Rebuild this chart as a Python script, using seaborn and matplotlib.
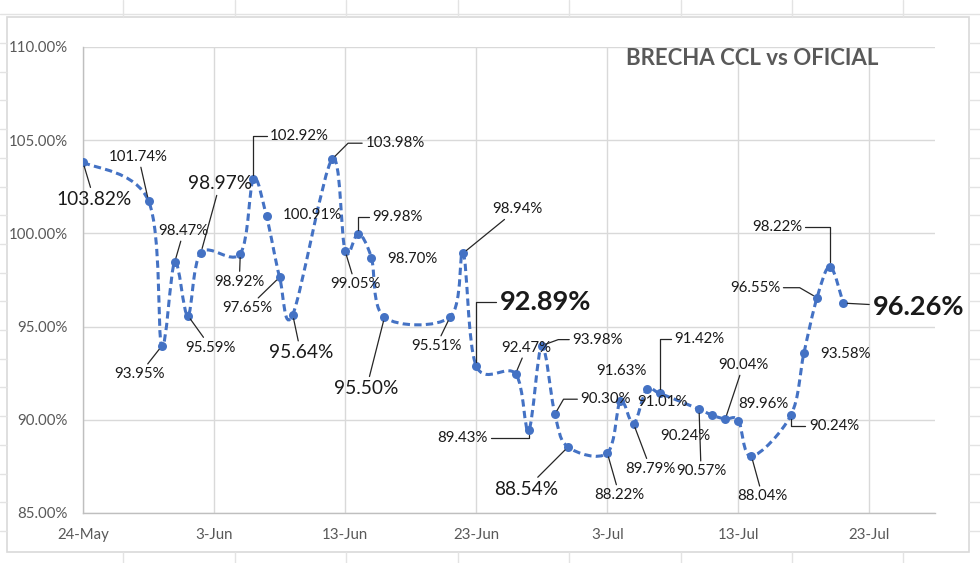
import numpy as np
import pandas as pd
import seaborn as sns
import matplotlib.pyplot as plt
import matplotlib.dates as mdates
from matplotlib.path import Path
from matplotlib.patches import PathPatch, Rectangle
from matplotlib.lines import Line2D
from matplotlib.ticker import FuncFormatter

# --- data ---
dates = ["2020-05-24", "2020-05-29", "2020-05-30", "2020-05-31", "2020-06-01",
         "2020-06-02", "2020-06-05", "2020-06-06", "2020-06-07", "2020-06-08",
         "2020-06-09", "2020-06-12", "2020-06-13", "2020-06-14", "2020-06-15",
         "2020-06-16", "2020-06-21", "2020-06-22", "2020-06-23", "2020-06-26",
         "2020-06-27", "2020-06-28", "2020-06-29", "2020-06-30", "2020-07-03",
         "2020-07-04", "2020-07-05", "2020-07-06", "2020-07-07", "2020-07-10",
         "2020-07-11", "2020-07-12", "2020-07-13", "2020-07-14", "2020-07-17",
         "2020-07-18", "2020-07-19", "2020-07-20", "2020-07-21"]
brecha = [103.82, 101.74, 93.95, 98.47, 95.59, 98.97, 98.92, 102.92, 100.91, 97.65,
          95.64, 103.98, 99.05, 99.98, 98.70, 95.50, 95.51, 98.94, 92.89, 92.47,
          89.43, 93.98, 90.30, 88.54, 88.22, 91.01, 89.79, 91.63, 91.42, 90.57,
          90.24, 90.04, 89.96, 88.04, 90.24, 93.58, 96.55, 98.22, 96.26]
x_ticks = ["2020-05-24", "2020-06-03", "2020-06-13", "2020-06-23",
           "2020-07-03", "2020-07-13", "2020-07-23"]
title = "BRECHA CCL vs OFICIAL"

# label placement: offset in pixels (dx, dy up), size class, leader kind
# kind: n = normal, b = big, B = big bold ; leader: None, "line", or angle (elbow)
label_style = [
    ((11, -37), "b", "line"), ((-10, 44), "n", "line"), ((-22, -28), "n", "line"),
    ((9, 31), "n", "line"), ((23, -32), "n", "line"), ((19, 69), "b", "line"),
    ((-1, -28), "n", "line"), ((46, 43), "n", 90), ((46, 1), "n", None),
    ((-32, -31), "n", "line"), ((8, -38), "b", "line"), ((63, 16), "n", 45),
    ((10, -33), "n", "line"), ((39, 17), "n", 90), ((41, -1), "n", None),
    ((-18, -71), "b", "line"), ((-14, -29), "n", "line"), ((54, 44), "n", "line"),
    ((69, 64), "B", 90), ((11, 26), "n", "line"), ((-66, -8), "n", 90),
    ((56, 6), "n", 20), ((51, 15), "n", 60), ((-42, -42), "b", "line"),
    ((12, -42), "n", "line"), ((42, -1), "n", None), ((17, -45), "n", "line"),
    ((-25, 18), "n", None), ((40, 54), "n", 90), ((2, -62), "n", "line"),
    ((-27, -21), "n", None), ((18, 54), "n", "line"), ((25, 17), "n", None),
    ((11, -40), "n", "line"), ((43, -11), "n", 90), ((42, -1), "n", None),
    ((-62, 10), "n", 150), ((-53, 40), "n", 90), ((75, -4), "B", "line"),
]

blue = "#4472C4"
grid_c = "#d9d9d9"
text_c = "#595959"

sns.set_theme(style="whitegrid")
plt.rcParams['font.family'] = ['Lato', 'DejaVu Sans']

fig = plt.figure(figsize=(9.8, 5.63), dpi=100)
fig.patch.set_facecolor("white")
W, H = 980, 563
ax = fig.add_axes([83 / W, 1 - 513 / H, (935 - 83) / W, (513 - 47) / H])

df = pd.DataFrame({"fecha": pd.to_datetime(dates), "brecha": brecha})

sns.scatterplot(data=df, x="fecha", y="brecha", ax=ax, color=blue, s=42,
                edgecolor=blue, linewidth=0, zorder=4, legend=False)

# smoothed dashed line (Catmull-Rom -> cubic Bezier, like Excel's smoothing)
xs = mdates.date2num(df["fecha"])
ys = df["brecha"].to_numpy()
pts = np.column_stack([xs, ys])
verts = [tuple(pts[0])]
codes = [Path.MOVETO]
n = len(pts)
for i in range(n - 1):
    p0 = pts[max(i - 1, 0)]
    p1 = pts[i]
    p2 = pts[i + 1]
    p3 = pts[min(i + 2, n - 1)]
    c1 = p1 + (p2 - p0) / 6.0
    c2 = p2 - (p3 - p1) / 6.0
    verts += [tuple(c1), tuple(c2), tuple(p2)]
    codes += [Path.CURVE4, Path.CURVE4, Path.CURVE4]
curve = PathPatch(Path(verts, codes), facecolor="none", edgecolor=blue, lw=2.2,
                  linestyle=(0, (2.4, 1.4)), zorder=3, capstyle="butt")
ax.add_patch(curve)

# axes
ax.set_ylim(85, 110)
ax.set_yticks([85, 90, 95, 100, 105, 110])
ax.yaxis.set_major_formatter(FuncFormatter(lambda v, p: f"{v:.2f}%"))
ax.set_xlim(pd.Timestamp("2020-05-24"), pd.Timestamp("2020-07-28"))
ax.set_xticks(pd.to_datetime(x_ticks))
ax.xaxis.set_major_formatter(FuncFormatter(
    lambda v, p: f"{mdates.num2date(v).day}-{mdates.num2date(v).strftime('%b')}"))
ax.set_xlabel("")
ax.set_ylabel("")
ax.grid(True, color=grid_c, lw=1)
ax.tick_params(axis="y", labelsize=10.8, labelcolor=text_c, pad=11, length=0)
ax.tick_params(axis="x", labelsize=10.8, labelcolor=text_c, pad=11, length=0)
for side in ["top", "right"]:
    ax.spines[side].set_visible(False)
for side in ["left", "bottom"]:
    ax.spines[side].set_color("#bfbfbf")
    ax.spines[side].set_linewidth(1)
ax.set_facecolor("white")

ax.text(0.785, 0.976, title, transform=ax.transAxes, ha="center", va="center",
        fontsize=16, fontweight="bold", color=text_c)

# data labels
sizes = {"n": (10.8, "normal"), "b": (13.8, "normal"), "B": (19.5, "bold")}
for x, v, (off, kind, lead) in zip(df["fecha"], brecha, label_style):
    fs, fw = sizes[kind]
    arrow = None
    if lead == "line":
        arrow = dict(arrowstyle="-", color="#262626", lw=0.9, shrinkA=0, shrinkB=3)
    elif lead is not None:
        arrow = dict(arrowstyle="-", color="#262626", lw=0.9, shrinkA=0, shrinkB=3,
                     connectionstyle=f"angle,angleA=0,angleB={lead},rad=0")
    ax.annotate(f"{v:.2f}%", xy=(x, v), xytext=off, textcoords="offset pixels",
                ha="center", va="center", fontsize=fs, fontweight=fw,
                color="#1a1a1a", arrowprops=arrow, zorder=5)

# chart frame and spreadsheet cell lines around it
fig.patches.append(Rectangle((7 / W, 1 - 552 / H), (969 - 7) / W, (552 - 17) / H,
                             transform=fig.transFigure, fill=False,
                             edgecolor=grid_c, lw=1.2))
sheet_c = "#e3e3e3"
fig.lines.append(Line2D([0, 1], [1 - 14 / H, 1 - 14 / H], transform=fig.transFigure,
                        color=sheet_c, lw=1))
for cx in [123, 235, 346, 458, 569, 681, 792, 903]:
    fig.lines.append(Line2D([cx / W, cx / W], [1, 1 - 17 / H], transform=fig.transFigure,
                            color=sheet_c, lw=1))
    fig.lines.append(Line2D([cx / W, cx / W], [1 - 552 / H, 0], transform=fig.transFigure,
                            color=sheet_c, lw=1))
for ry in np.arange(43, 552, 28.7):
    fig.lines.append(Line2D([0, 7 / W], [1 - ry / H, 1 - ry / H], transform=fig.transFigure,
                            color=sheet_c, lw=1))
    fig.lines.append(Line2D([969 / W, 1], [1 - ry / H, 1 - ry / H], transform=fig.transFigure,
                            color=sheet_c, lw=1))

fig.savefig("out.png", dpi=100)
